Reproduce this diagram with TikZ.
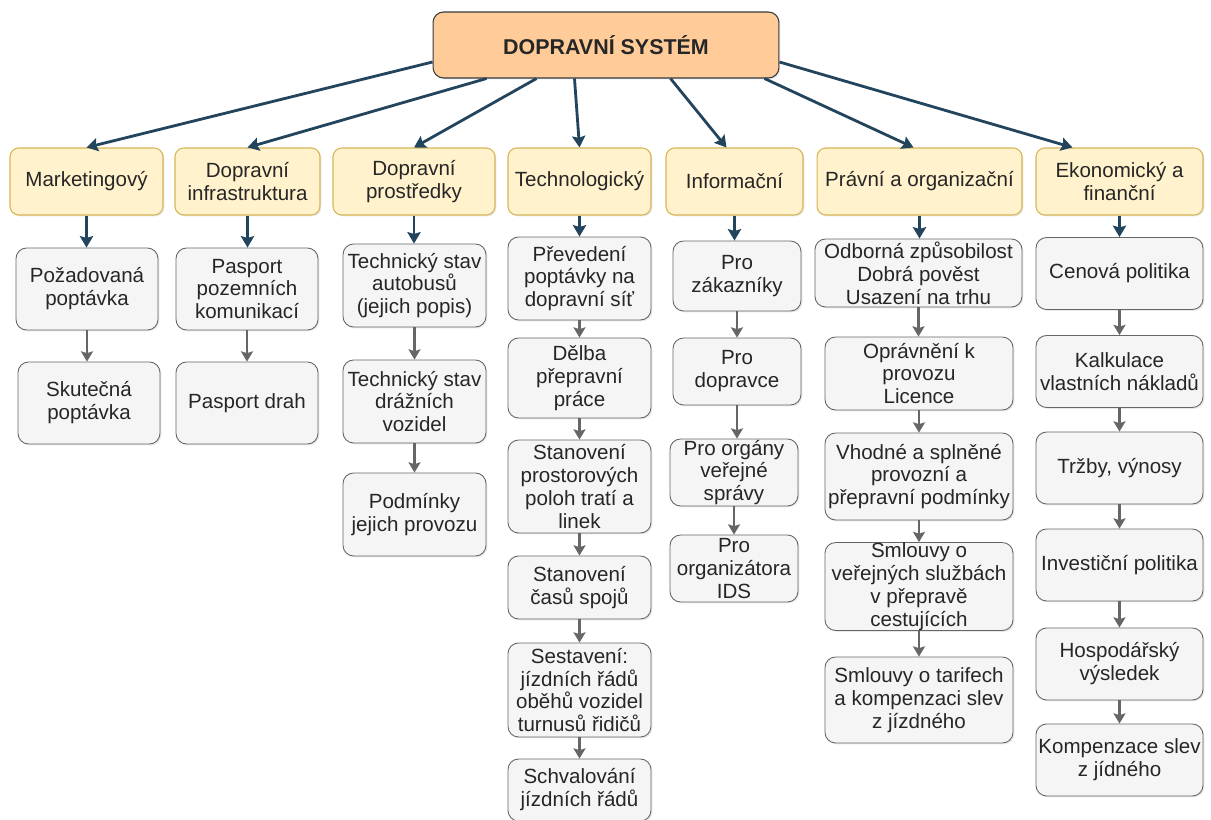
\documentclass[tikz,border=0pt]{standalone}
\usepackage{fontspec}
\setmainfont{Liberation Sans}
\usetikzlibrary{arrows.meta,calc,shadows}

\definecolor{sysfill}{HTML}{FFCC99}
\definecolor{sysline}{HTML}{36393D}
\definecolor{catfill}{HTML}{FFF2CC}
\definecolor{catline}{HTML}{D6B656}
\definecolor{itemfill}{HTML}{F5F5F5}
\definecolor{itemline}{HTML}{666666}
\definecolor{arrblue}{HTML}{23445D}

\begin{document}
\begin{tikzpicture}[x=0.02cm,y=-0.02cm,
    every node/.style={font=\fontsize{11.7}{13.05}\selectfont,text=black!85,align=center,inner sep=0pt},
    shade/.style={drop shadow={opacity=0.18,shadow xshift=0.8pt,shadow yshift=-0.8pt}},
    sys/.style={draw=sysline,fill=sysfill,rounded corners=6pt,line width=0.6pt,shade,
        minimum width=6.92cm,minimum height=1.32cm,font=\fontsize{12.2}{14}\selectfont\bfseries},
    cat/.style={draw=catline,fill=catfill,rounded corners=5pt,line width=0.6pt,shade,minimum height=1.34cm},
    item/.style={draw=itemline,fill=itemfill,rounded corners=6pt,line width=0.5pt,shade},
    toarr/.style={draw=arrblue,line width=1.6pt,-{Stealth[length=6.5pt,width=7.5pt,inset=1pt]}},
    grarr/.style={draw=itemline,line width=1.6pt,-{Stealth[length=5.8pt,width=6.8pt,inset=1pt]}}]
  \useasboundingbox (0,0) rectangle (1211,819);

  \node[sys] (sys) at (606,45) {DOPRAVNÍ SYSTÉM};

  \node[cat,minimum width=3.06cm] (mkt) at (86.5,181.5) {Marketingový};
  \node[cat,minimum width=2.9cm] (infra) at (247.5,181.5) {Dopravní\\infrastruktura};
  \node[cat,minimum width=3.24cm] (prostr) at (414,181.5) {Dopravní\\prostředky};
  \node[cat,minimum width=2.86cm] (techn) at (579.5,181.5) {Technologický};
  \node[cat,minimum width=2.74cm] (info) at (734.5,181.5) {Informační};
  \node[cat,minimum width=4.1cm] (pravni) at (919.5,181.5) {Právní a organizační};
  \node[cat,minimum width=3.34cm] (ekon) at (1119.5,181.5) {Ekonomický a\\finanční};

  \draw[toarr] ($(sys.west)+(0,17)$) -- (mkt.north);
  \draw[toarr] ($(sys.south west)+(54,0)$) -- (infra.north);
  \draw[toarr] ($(sys.south west)+(104,0)$) -- (prostr.north);
  \draw[toarr] ($(sys.south west)+(142,0)$) -- (techn.north);
  \draw[toarr] ($(sys.south west)+(238,0)$) -- ($(info.north)+(-8,0)$);
  \draw[toarr] ($(sys.south west)+(332,0)$) -- ($(pravni.north)+(-6,0)$);
  \draw[toarr] ($(sys.east)+(0,17)$) -- ($(ekon.north west)+(37,0)$);

  % marketing
  \node[item,minimum width=2.84cm,minimum height=1.64cm] (pozad) at (87,289) {Požadovaná\\poptávka};
  \node[item,minimum width=2.84cm,minimum height=1.64cm] (skut) at (89,403) {Skutečná\\poptávka};
  % infrastruktura
  \node[item,minimum width=2.84cm,minimum height=1.64cm] (pkom) at (247,289) {Pasport\\pozemních\\komunikací};
  \node[item,minimum width=2.84cm,minimum height=1.64cm] (pdrah) at (247,403) {Pasport drah};
  % prostredky
  \node[item,minimum width=2.86cm,minimum height=1.66cm] (tsbus) at (414.5,285.5) {Technický stav\\autobusů\\(jejich popis)};
  \node[item,minimum width=2.86cm,minimum height=1.66cm] (tsdraha) at (414.5,401.5) {Technický stav\\drážních\\vozidel};
  \node[item,minimum width=2.86cm,minimum height=1.66cm] (podm) at (414.5,514.5) {Podmínky\\jejich provozu};
  % technologicky
  \node[item,minimum width=2.86cm,minimum height=1.66cm] (preved) at (579.5,278.5) {Převedení\\poptávky na\\dopravní síť};
  \node[item,minimum width=2.86cm,minimum height=1.6cm] (delba) at (579.5,378) {Dělba\\přepravní\\práce};
  \node[item,minimum width=2.86cm,minimum height=1.86cm] (stanpol) at (579.5,486.5) {Stanovení\\prostorových\\poloh tratí a\\linek};
  \node[item,minimum width=2.86cm,minimum height=1.26cm] (stancas) at (579.5,587.5) {Stanovení\\časů spojů};
  \node[item,minimum width=2.86cm,minimum height=1.88cm] (sestav) at (579.5,690) {Sestavení:\\jízdních řádů\\oběhů vozidel\\turnusů řidičů};
  \node[item,minimum width=2.86cm,minimum height=1.24cm] (schval) at (579.5,790) {Schvalování\\jízdních řádů};
  % informacni
  \node[item,minimum width=2.56cm,minimum height=1.4cm] (zak) at (737,276) {Pro\\zákazníky};
  \node[item,minimum width=2.56cm,minimum height=1.34cm] (dopr) at (737,371.5) {Pro\\dopravce};
  \node[item,minimum width=2.56cm,minimum height=1.34cm] (organy) at (734,472.5) {Pro orgány\\veřejné\\správy};
  \node[item,minimum width=2.56cm,minimum height=1.34cm] (ids) at (734,568.5) {Pro\\organizátora\\IDS};
  % pravni
  \node[item,minimum width=4.14cm,minimum height=1.36cm] (odbor) at (918.5,273) {Odborná způsobilost\\Dobrá pověst\\Usazení na trhu};
  \node[item,minimum width=3.76cm,minimum height=1.46cm] (opravn) at (919,373.5) {Oprávnění k\\provozu\\Licence};
  \node[item,minimum width=3.76cm,minimum height=1.74cm] (vhodne) at (919,476.5) {Vhodné a splněné\\provozní a\\přepravní podmínky};
  \node[item,minimum width=3.76cm,minimum height=1.74cm] (smlsluz) at (919,586.5) {Smlouvy o\\veřejných službách\\v přepravě\\cestujících};
  \node[item,minimum width=3.76cm,minimum height=1.72cm] (smltar) at (919,700) {Smlouvy o tarifech\\a kompenzaci slev\\z jízdného};
  % ekonomicky
  \node[item,minimum width=3.34cm,minimum height=1.44cm] (cena) at (1119.5,273.5) {Cenová politika};
  \node[item,minimum width=3.34cm,minimum height=1.44cm] (kalk) at (1119.5,371.5) {Kalkulace\\vlastních nákladů};
  \node[item,minimum width=3.34cm,minimum height=1.44cm] (trzby) at (1119.5,468) {Tržby, výnosy};
  \node[item,minimum width=3.34cm,minimum height=1.44cm] (invest) at (1119.5,565) {Investiční politika};
  \node[item,minimum width=3.34cm,minimum height=1.44cm] (hosp) at (1119.5,664) {Hospodářský\\výsledek};
  \node[item,minimum width=3.34cm,minimum height=1.44cm] (kompen) at (1119.5,760) {Kompenzace slev\\z jídného};

  \draw[toarr] (mkt.south) -- (mkt.south |- pozad.north);
  \draw[toarr] (infra.south) -- (infra.south |- pkom.north);
  \draw[toarr] (prostr.south) -- (prostr.south |- tsbus.north);
  \draw[toarr] (techn.south) -- (techn.south |- preved.north);
  \draw[toarr] (info.south) -- (info.south |- zak.north);
  \draw[toarr] (pravni.south) -- (pravni.south |- odbor.north);
  \draw[toarr] (ekon.south) -- (ekon.south |- cena.north);

  \draw[grarr] (pozad.south) -- (pozad.south |- skut.north);
  \draw[grarr] (pkom.south) -- (pkom.south |- pdrah.north);
  \draw[grarr] (tsbus.south) -- (tsbus.south |- tsdraha.north);
  \draw[grarr] (tsdraha.south) -- (tsdraha.south |- podm.north);
  \draw[grarr] (preved.south) -- (preved.south |- delba.north);
  \draw[grarr] (delba.south) -- (delba.south |- stanpol.north);
  \draw[grarr] (stanpol.south) -- (stanpol.south |- stancas.north);
  \draw[grarr] (stancas.south) -- (stancas.south |- sestav.north);
  \draw[grarr] (sestav.south) -- (sestav.south |- schval.north);
  \draw[grarr] (zak.south) -- (zak.south |- dopr.north);
  \draw[grarr] (dopr.south) -- (dopr.south |- organy.north);
  \draw[grarr] (organy.south) -- (organy.south |- ids.north);
  \draw[grarr] (odbor.south) -- (odbor.south |- opravn.north);
  \draw[grarr] (opravn.south) -- (opravn.south |- vhodne.north);
  \draw[grarr] (vhodne.south) -- (vhodne.south |- smlsluz.north);
  \draw[grarr] (smlsluz.south) -- (smlsluz.south |- smltar.north);
  \draw[grarr] (cena.south) -- (cena.south |- kalk.north);
  \draw[grarr] (kalk.south) -- (kalk.south |- trzby.north);
  \draw[grarr] (trzby.south) -- (trzby.south |- invest.north);
  \draw[grarr] (invest.south) -- (invest.south |- hosp.north);
  \draw[grarr] (hosp.south) -- (hosp.south |- kompen.north);
\end{tikzpicture}
\end{document}
